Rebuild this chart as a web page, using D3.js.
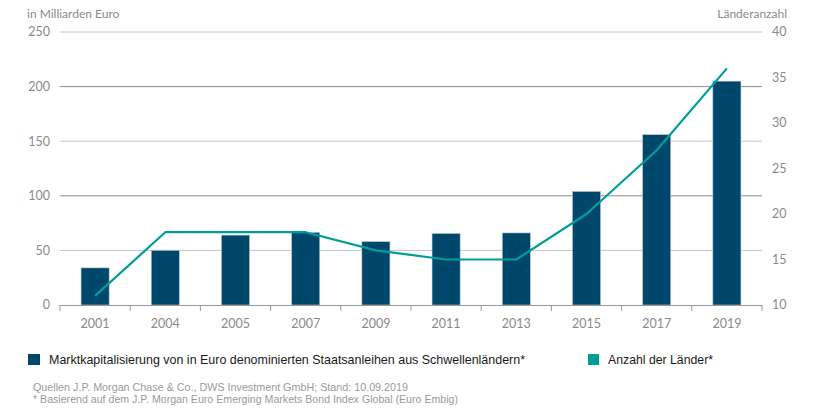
<!DOCTYPE html>
<html><head><meta charset="utf-8">
<script src="https://cdn.jsdelivr.net/npm/d3@7"></script>
<style>
body{margin:0;background:#fff;}
svg{display:block;}
</style></head><body>
<svg id="c" width="828" height="412"></svg>
<script>
const years = ["2001","2004","2005","2007","2009","2011","2013","2015","2017","2019"];
const marketCap = [34, 50, 64, 66.5, 58, 65.5, 66, 104, 156, 205];
const countries = [11, 18, 18, 18, 16, 15, 15, 20, 27, 36];
const leftTicks = [0, 50, 100, 150, 200, 250];
const rightTicks = [10, 15, 20, 25, 30, 35, 40];

const barColor = "#00486b", lineColor = "#009e98", axisText = "#8a8a8a";
const svg = d3.select("#c");
const m = {l:60, r:762, t:32, b:305};
const x = d3.scaleBand().domain(years).range([m.l, m.r]).paddingInner(0.6).paddingOuter(0.3);
const xb = d3.scaleBand().domain(years).range([m.l, m.r]);
const yL = d3.scaleLinear().domain([0,250]).range([m.b, m.t]);
const yR = d3.scaleLinear().domain([10,40]).range([m.b, m.t]);
const tickFont = "Lato, 'Open Sans', sans-serif";

// gridlines
svg.append("g").selectAll("line").data(leftTicks.filter(d=>d>0)).join("line")
  .attr("x1", m.l).attr("x2", m.r).attr("y1", d=>yL(d)).attr("y2", d=>yL(d))
  .attr("stroke", d => (d%100===0) ? "#8c8c8c" : "#c4c4c4").attr("stroke-width",1);

// left axis labels
svg.append("g").selectAll("text").data(leftTicks).join("text")
  .attr("x", 50).attr("y", d=>yL(d)).attr("dy","0.35em").attr("text-anchor","end")
  .attr("font-family", tickFont).attr("font-size", 12.5).attr("fill", axisText).text(d=>d);
// right axis labels
svg.append("g").selectAll("text").data(rightTicks).join("text")
  .attr("x", 772).attr("y", d=>yR(d)).attr("dy","0.35em").attr("text-anchor","start")
  .attr("font-family", tickFont).attr("font-size", 12.5).attr("fill", axisText).text(d=>d);

svg.append("text").attr("x", 27).attr("y", 18).attr("font-family", tickFont).attr("font-size", 12)
  .attr("fill", axisText).text("in Milliarden Euro");
svg.append("text").attr("x", 787).attr("y", 18).attr("text-anchor","end").attr("font-family", tickFont).attr("font-size", 12)
  .attr("fill", axisText).text("Länderanzahl");

// bars
svg.append("g").selectAll("rect").data(years).join("rect")
  .attr("x", d=>x(d)).attr("width", x.bandwidth())
  .attr("y", (d,i)=>yL(marketCap[i])).attr("height", (d,i)=>yL(0)-yL(marketCap[i]))
  .attr("fill", barColor).attr("stroke","#b9c7d2").attr("stroke-width",0.6);

// x axis
const xAxis = d3.axisBottom(xb).tickSize(0).tickPadding(14);
const gx = svg.append("g").attr("transform", `translate(0,${m.b})`).call(xAxis);
gx.select(".domain").attr("stroke","#999");
gx.selectAll("text").attr("font-family", tickFont).attr("font-size", 12.5).attr("fill", axisText);
const bounds = years.map(d=>xb(d)).concat([m.r]);
gx.selectAll(".bt").data(bounds).join("line").attr("class","bt")
  .attr("x1", d=>d).attr("x2", d=>d).attr("y1",0).attr("y2",6).attr("stroke","#999");

// line
const line = d3.line().x((d,i)=>xb(years[i]) + xb.bandwidth()/2).y(d=>yR(d));
svg.append("path").datum(countries).attr("d", line).attr("fill","none")
  .attr("stroke", lineColor).attr("stroke-width", 2.2).attr("stroke-linejoin","round");

// legend
const legFont = "'Liberation Sans', Arial, sans-serif";
svg.append("rect").attr("x",28).attr("y",354).attr("width",12).attr("height",11).attr("fill",barColor);
svg.append("text").attr("x",49).attr("y",363.5).attr("font-family",legFont).attr("font-size",13).attr("fill","#1a1a1a")
  .attr("textLength",476).attr("lengthAdjust","spacingAndGlyphs")
  .text("Marktkapitalisierung von in Euro denominierten Staatsanleihen aus Schwellenländern*");
svg.append("rect").attr("x",588).attr("y",354).attr("width",11).attr("height",11).attr("fill",lineColor);
svg.append("text").attr("x",608).attr("y",363.5).attr("font-family",legFont).attr("font-size",13).attr("fill","#1a1a1a")
  .attr("textLength",105).attr("lengthAdjust","spacingAndGlyphs")
  .text("Anzahl der Länder*");

// footnotes
svg.append("text").attr("x",33).attr("y",391).attr("font-family",legFont).attr("font-size",11).attr("fill","#9a9a9a")
  .attr("textLength",375).attr("lengthAdjust","spacingAndGlyphs")
  .text("Quellen J.P. Morgan Chase & Co., DWS Investment GmbH; Stand: 10.09.2019");
svg.append("text").attr("x",33).attr("y",403).attr("font-family",legFont).attr("font-size",11).attr("fill","#9a9a9a")
  .attr("textLength",425).attr("lengthAdjust","spacingAndGlyphs")
  .text("* Basierend auf dem J.P. Morgan Euro Emerging Markets Bond Index Global (Euro Embig)");
</script></body></html>
